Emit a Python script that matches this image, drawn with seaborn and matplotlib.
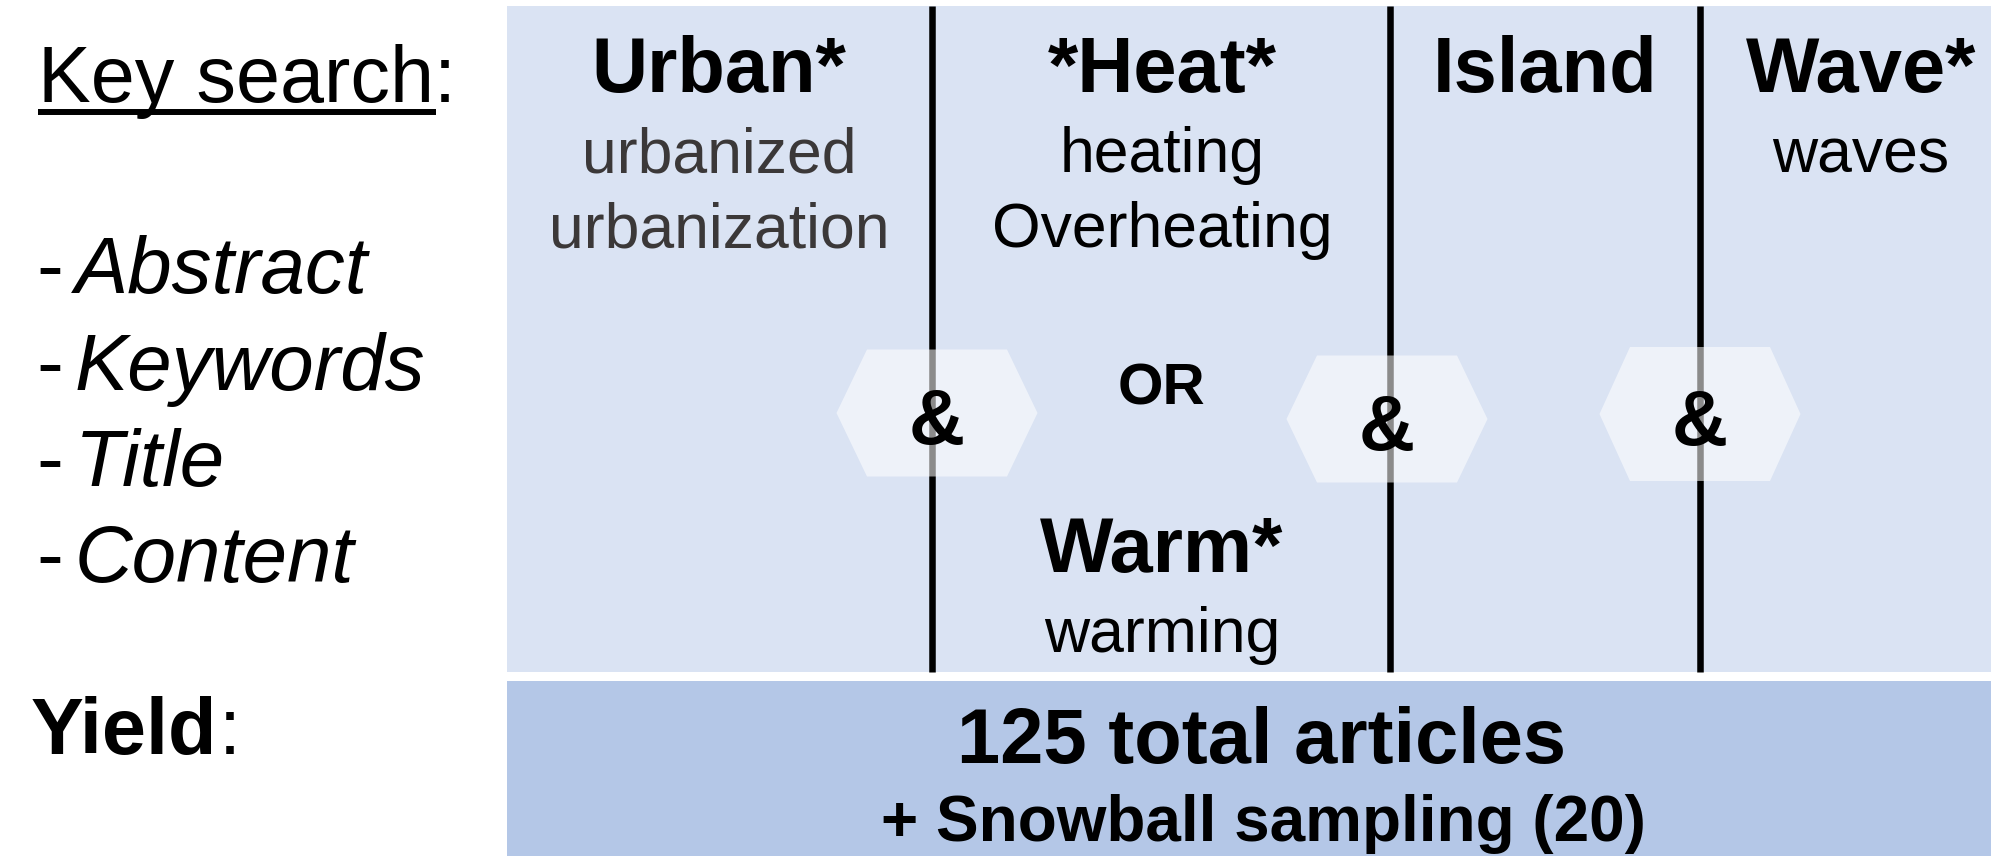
import matplotlib
matplotlib.use("Agg")
import matplotlib.pyplot as plt
from matplotlib.patches import Rectangle, Polygon
import seaborn as sns

# ---------------- data (text content) ----------------
search_label = "Key search"
fields = ["Abstract", "Keywords", "Title", "Content"]
terms = ["Urban*", "*Heat*", "Island", "Wave*"]
term_variants = [["urbanized", "urbanization"], ["heating", "Overheating"], [], ["waves"]]
alt_term = "Warm*"
alt_variants = ["warming"]
or_label = "OR"
connectors = ["&", "&", "&"]
yield_label = "Yield"
total_articles = 125
snowball_count = 20

# ---------------- layout / style ----------------
W, H = 1991, 856
DPI = 100
sns.set_theme(style="white")
plt.rcParams["font.family"] = ["Liberation Sans", "DejaVu Sans"]

TOP_BG = "#dae3f3"
BOT_BG = "#b4c7e7"
SUB_GRAY = "#3b3838"

panel_left = 507
top_y0, top_y1 = 6, 672
bot_y0 = 681
col_lines = [932, 1390, 1700]
col_centers = [719, 1162, 1545, 1861]
hex_centers = [(937, 413), (1387, 419), (1700, 414)]
hex_heights = [127, 127, 134]
hex_w, hex_top_w = 201, 140

BIG = 56
SUB = 45

fig = plt.figure(figsize=(W / DPI, H / DPI), dpi=DPI)
ax = fig.add_axes([0, 0, 1, 1])
ax.set_xlim(0, W)
ax.set_ylim(H, 0)
ax.axis("off")
fig.patch.set_facecolor("white")

# panels
ax.add_patch(Rectangle((panel_left, top_y0), W - panel_left + 10, top_y1 - top_y0,
                       facecolor=TOP_BG, edgecolor="none", zorder=1))
ax.add_patch(Rectangle((panel_left, bot_y0), W - panel_left + 10, H - bot_y0 + 10,
                       facecolor=BOT_BG, edgecolor="none", zorder=1))

# column separators
ax.vlines(col_lines, top_y0, top_y1, color="black", lw=4.7, zorder=2)

# hexagons with connectors
for (cx, cy), hh, sym in zip(hex_centers, hex_heights, connectors):
    pts = [(cx - hex_w / 2, cy), (cx - hex_top_w / 2, cy - hh / 2),
           (cx + hex_top_w / 2, cy - hh / 2), (cx + hex_w / 2, cy),
           (cx + hex_top_w / 2, cy + hh / 2), (cx - hex_top_w / 2, cy + hh / 2)]
    ax.add_patch(Polygon(pts, closed=True, facecolor="white", alpha=0.55,
                         edgecolor="none", zorder=3))
    ax.text(cx, cy + 31, sym, ha="center", va="baseline", fontsize=BIG,
            fontweight="bold", color="black", zorder=4)

# left labels
ax.text(38, 102, search_label + ":", ha="left", va="baseline", fontsize=57, color="black")
ax.plot([38, 436], [111.7, 111.7], color="black", lw=4.3, solid_capstyle="butt")
field_baselines = [293, 390, 486, 582]
for f, yb in zip(fields, field_baselines):
    ax.text(36, yb, "-", ha="left", va="baseline", fontsize=58, color="black")
    ax.text(75, yb, f, ha="left", va="baseline", fontsize=57.5, style="italic", color="black")

yt = ax.text(31, 754, yield_label, ha="left", va="baseline", fontsize=57,
             fontweight="bold", color="black")
fig.canvas.draw()
bb = yt.get_window_extent(renderer=fig.canvas.get_renderer())
x_end = ax.transData.inverted().transform((bb.x1, bb.y0))[0]
ax.text(x_end + 1, 754, ":", ha="left", va="baseline", fontsize=57, color="black")

# column terms
sub_baselines = [172, 247]
for i, (t, vars_) in enumerate(zip(terms, term_variants)):
    ax.text(col_centers[i], 92, t, ha="center", va="baseline", fontsize=BIG,
            fontweight="bold", color="black", zorder=4)
    for v, yb in zip(vars_, sub_baselines):
        ax.text(col_centers[i], yb, v, ha="center", va="baseline", fontsize=SUB,
                color=SUB_GRAY if i == 0 else "black", zorder=4)

ax.text(col_centers[1], 404, or_label, ha="center", va="baseline", fontsize=42,
        fontweight="bold", color="black", zorder=4)
ax.text(col_centers[1], 572, alt_term, ha="center", va="baseline", fontsize=BIG,
        fontweight="bold", color="black", zorder=4)
for v in alt_variants:
    ax.text(col_centers[1], 652, v, ha="center", va="baseline", fontsize=SUB,
            color="black", zorder=4)

# yield
ax.text(1262, 763, f"{total_articles} total articles", ha="center", va="baseline",
        fontsize=BIG, fontweight="bold", color="black", zorder=4)
ax.text(1263, 841, f"+ Snowball sampling ({snowball_count})", ha="center", va="baseline",
        fontsize=46, fontweight="bold", color="black", zorder=4)

fig.savefig("out.png", dpi=DPI, facecolor="white")
